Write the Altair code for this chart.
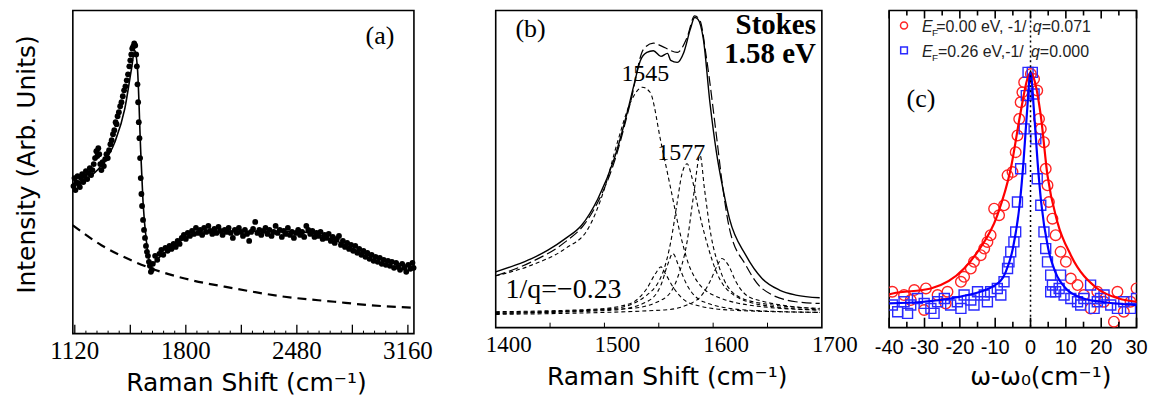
import altair as alt
import pandas as pd

# ---------------- Panel (a) data ----------------
a_fit_x = [1108, 1283, 1365, 1426, 1467, 1487, 1504, 1524, 1538, 1559, 1589, 1630, 1732, 1895, 2099, 2507, 2711, 2915, 3197]
a_fit_y = [150.3, 168.7, 192, 225.3, 265.3, 284, 265.3, 182, 132, 92, 68.7, 75.3, 88.7, 102, 102.7, 102, 93.7, 78.7, 67]

a_bg_x = [1108, 1283, 1487, 1589, 1793, 2099, 2405, 2711, 2915, 3197]
a_bg_y = [108.7, 88.7, 72, 65.3, 55.3, 45.3, 37, 32, 28.7, 26]

a_pts_x = [1112, 1118, 1124, 1130, 1137, 1144, 1151, 1158, 1165, 1172, 1180, 1188, 1196, 1204, 1212, 1220,
           1228, 1236, 1244, 1252, 1258, 1264, 1270, 1276, 1283, 1290, 1298, 1306, 1314, 1322, 1330, 1338,
           1346, 1354, 1362, 1370, 1376, 1382, 1390, 1398, 1406, 1414, 1422, 1430, 1438, 1446, 1454, 1460,
           1466, 1472, 1478, 1484, 1490, 1496, 1500, 1504, 1508, 1512, 1516, 1520, 1524, 1528, 1532, 1538,
           1544, 1550, 1556, 1562, 1568, 1574, 1580, 1586, 1592, 1598,
           1612, 1625, 1638, 1650, 1662, 1675, 1688, 1700, 1712, 1725, 1738, 1750, 1762, 1775, 1788, 1800,
           1812, 1825, 1838, 1850, 1862, 1875, 1888, 1900, 1912, 1925, 1938, 1950, 1962, 1975, 1988, 2000,
           2012, 2025, 2038, 2050, 2062, 2075, 2088, 2100, 2112, 2125, 2138, 2150, 2162, 2175, 2188, 2200,
           2212, 2225, 2238, 2250, 2262, 2275, 2288, 2300, 2312, 2325, 2338, 2350, 2362, 2375, 2388, 2400,
           2412, 2425, 2438, 2450, 2462, 2475, 2488, 2500, 2512, 2525, 2538, 2550, 2562, 2575, 2588, 2600,
           2612, 2625, 2638, 2650, 2662, 2675, 2688, 2700, 2712, 2725, 2738, 2750, 2762, 2775, 2788, 2800,
           2812, 2825, 2838, 2850, 2862, 2875, 2888, 2900, 2912, 2925, 2938, 2950, 2962, 2975, 2988, 3000,
           3012, 3025, 3038, 3050, 3062, 3075, 3088, 3100, 3112, 3125, 3138, 3150, 3162, 3175, 3188, 3195]
a_pts_y = [148, 156, 144, 152, 158, 150, 147, 156, 160, 152, 158, 163, 155, 161, 166, 159,
           164, 170, 176, 183, 178, 186, 180, 170, 164, 172, 168, 175, 180, 176, 184, 190,
           194, 200, 204, 212, 210, 218, 222, 228, 232, 238, 244, 248, 254, 260, 268, 274,
           280, 286, 288, 291, 289, 280, 268, 250, 232, 212, 196, 176, 156, 140, 128, 114,
           104, 96, 88, 82, 78, 72, 68, 62, 64, 70,
           78, 74, 80, 84, 79, 86, 83, 88, 85, 90, 87, 93, 90, 96, 99, 95,
           101, 98, 103, 100, 106, 101, 104, 99, 106, 102, 108, 103, 100, 105, 101, 107,
           103, 99, 104, 102, 106, 101, 96, 104, 101, 106, 102, 98, 104, 100, 93, 102,
           105, 112, 101, 104, 99, 103, 106, 100, 104, 98, 102, 108, 101, 104, 97, 103,
           100, 106, 99, 102, 96, 101, 104, 99, 102, 97, 108, 104, 100, 103, 97, 101,
           98, 102, 95, 99, 96, 100, 93, 97, 91, 95, 98, 89, 93, 87, 91, 85,
           89, 83, 88, 81, 85, 79, 83, 77, 81, 75, 79, 73, 77, 72, 76, 70,
           74, 69, 73, 68, 72, 66, 71, 67, 64, 70, 66, 62, 69, 65, 71, 66]

a_label_vals = [1120, 1800, 2480, 3160]
a_ticks_major = [1120, 1460, 1800, 2140, 2480, 2820, 3160]
a_ticks_minor = [1188, 1256, 1324, 1392, 1528, 1596, 1664, 1732, 1868, 1936, 2004, 2072,
                 2208, 2276, 2344, 2412, 2548, 2616, 2684, 2752, 2888, 2956, 3024, 3092]

# ---------------- Panel (b) data ----------------
b_exp_x = [1400, 1418, 1433, 1448, 1464, 1479, 1494, 1509, 1521, 1527, 1533, 1539, 1545, 1552, 1558, 1561,
           1567, 1573, 1579, 1583, 1586, 1591, 1597, 1603, 1609, 1615, 1630, 1645, 1661, 1676, 1698]
b_exp_y = [56, 62.7, 69.3, 77.7, 89.3, 102.7, 129.3, 169.3, 216, 242.7, 267.7, 276, 277.7, 272, 275, 268,
           266, 276, 299.3, 311, 309.3, 289.3, 226, 176, 139.3, 109.3, 72.7, 49.3, 37.7, 32.7, 30]

b_fit_x = [1400, 1433, 1464, 1482, 1494, 1509, 1524, 1536, 1545, 1555, 1567, 1576, 1583, 1588, 1594, 1603,
           1609, 1615, 1630, 1645, 1676, 1698]
b_fit_y = [52, 66, 86, 104.3, 126, 166, 226, 279.3, 285.3, 281, 276, 291, 312.7, 307.7, 269.3, 192.7,
           139.3, 99.3, 62.7, 39.3, 26, 24.3]

b_c1_x = [1400, 1433, 1464, 1485, 1500, 1512, 1524, 1535, 1542, 1552, 1561, 1570, 1579, 1600, 1645, 1698]
b_c1_y = [52, 62.7, 79.3, 99.3, 139.3, 186, 226, 241, 236, 186, 139.3, 92.7, 59.3, 32.7, 21, 17.7]
b_c2_x = [1400, 1509, 1539, 1555, 1561, 1567, 1571, 1576, 1580, 1585, 1594, 1603, 1615, 1645, 1698]
b_c2_y = [14.3, 19.3, 32.7, 59.3, 86, 126, 152.7, 164.3, 152.7, 126, 86, 56, 36, 22.7, 17.7]
b_c3_x = [1400, 1524, 1555, 1567, 1576, 1582, 1588, 1592, 1598, 1606, 1621, 1645, 1698]
b_c3_y = [15.3, 19.3, 29.3, 49.3, 86, 132.7, 172.7, 139.3, 92.7, 59.3, 32.7, 24.3, 19.3]
b_c4_x = [1400, 1494, 1524, 1539, 1547, 1552, 1556, 1564, 1579, 1615, 1698]
b_c4_y = [16, 18.7, 24.3, 39.3, 54.3, 61, 54.3, 39.3, 24.3, 17.7, 15.3]
b_c5_x = [1400, 1509, 1539, 1552, 1558, 1563, 1568, 1576, 1591, 1630, 1698]
b_c5_y = [14.3, 17.7, 26, 42.7, 62.7, 74.3, 62.7, 42.7, 26, 17.7, 15.3]
b_c6_x = [1400, 1555, 1585, 1597, 1604, 1608, 1614, 1621, 1636, 1698]
b_c6_y = [13.3, 17.7, 27.7, 46, 62.7, 69.3, 62.7, 46, 29.3, 18.7]

b_label_vals = [1400, 1500, 1600, 1700]
b_ticks = [1450, 1500, 1550, 1600, 1650]

# ---------------- Panel (c) data ----------------
c_red_fit_x = [-40, -39, -28.2, -18.8, -15, -9.4, -5.6, -2.8, -0.9, 0, 1, 2.9, 4.8, 7.6, 11.4, 18.9, 25, 30]
c_red_fit_y = [33.5, 34.3, 39.3, 59.3, 76, 112.7, 159.3, 216, 249.3, 256, 249.3, 212.7, 152.7, 106, 72.7, 39.3, 29.3, 26]
c_blue_fit_x = [-40, -30, -20, -10, -7, -5, -3, -2, -1, 0, 1, 2, 3, 5, 7, 10, 15, 20, 30]
c_blue_fit_y = [24.3, 26, 31, 42.7, 56, 79.3, 126, 166, 216, 256, 216, 166, 126, 79.3, 56, 39.3, 29.3, 26, 22.7]

c_red_x = [-39.1, -35.8, -33.9, -32.9, -30.1, -29.6, -26.3, -24, -23.5, -19.7, -18.8, -16.9, -16, -14.1, -13.1,
           -12.2, -11.3, -10.3, -8.9, -7.5, -6.5, -5.1, -4.2, -3.7, -3.2, -2.8, -2.3, -1.8, 0.1, 1.0, 1.9,
           2.4, 2.9, 3.8, 4.3, 4.8, 5.2, 6.2, 7.1, 8.5, 10, 11.4, 13.3, 15.1, 17, 18.9, 20.8, 23.6, 24.6,
           26.4, 28.3, 30]
c_red_y = [36, 32.7, 27.7, 37.7, 17.7, 39.3, 32.7, 24.3, 36, 46, 51, 59.3, 66, 72.7, 79.3,
           86, 92.7, 119.3, 112.7, 122.7, 152.7, 156, 176, 192.7, 209.3, 226, 236, 246, 254.3, 249.3, 237.7,
           209.3, 199.3, 186, 159.3, 142.7, 126, 109.3, 92.7, 76, 66, 49.3, 42.7, 32.7, 19.3, 36, 26, 6, 36,
           16, 26, 39.3]

c_blue_x = [-39.1, -37.6, -35.8, -34.8, -33.9, -32, -30.1, -28.2, -27.3, -26.3, -24.4, -22.6, -20.7, -19.7,
            -18.8, -16.9, -16, -15, -13.1, -12.2, -11.3, -9.4, -8.4, -7.5, -6.5, -6.1, -5.6, -4.7, -4.2,
            -3.7, -2.8, -1.8, -1.2, -0.7, 0.5, 1, 1.5, 1.9, 2.9, 3.8, 4.3, 4.8, 5.7, 5.7, 6.2, 7.1, 8.1,
            8.5, 9.5, 11.4, 13.3, 14.2, 15.1, 17, 18, 18.9, 19.8, 20.8, 22.7, 24.6, 26.4, 28.3, 30]
c_blue_y = [22.7, 16, 26, 14.3, 22.7, 29.3, 24.3, 19.3, 14.3, 26, 29.3, 22.7, 26, 19.3,
            32.7, 27.7, 22.7, 36, 32.7, 26, 36, 39.3, 32.7, 46, 59.3, 66, 76, 86, 96,
            126, 159.3, 199.3, 232.7, 256, 256, 234.3, 189.3, 149.3, 122.7, 96, 79.3, 66, 52.7, 36, 42.7, 36, 39.3,
            52.7, 32.7, 29.3, 26, 22.7, 29.3, 42.7, 19.3, 26, 29.3, 32.7, 22.7, 19.3, 26, 19.3, 29.3]

c_label_vals = [-40, -30, -20, -10, 0, 10, 20, 30]
c_ticks_major = [-40, -30, -20, -10, 0, 10, 20, 30]
c_ticks_minor = [-35, -25, -15, -5, 5, 15, 25]

# ---------------- sizes & fonts ----------------
W_A, H_A = 342, 324
W_B, H_B = 327, 318
W_C, H_C = 248, 318
SERIF = "Liberation Serif"
SANS = "DejaVu Sans"
ARIAL = "Liberation Sans"


def xy_df(xs, ys, **extra):
    d = pd.DataFrame({"x": xs, "y": ys})
    for k, v in extra.items():
        d[k] = v
    return d


def tick_labels(vals, X, y_px, font, size, dx=0):
    df = pd.DataFrame({"x": vals, "t": [str(v) for v in vals]})
    return alt.Chart(df).mark_text(font=font, fontSize=size, color="black", align="center",
                                   baseline="alphabetic", dx=dx).encode(x=X, y=alt.value(y_px), text="t:N")


def free_text(txt, x_px, y_px, font, size, angle=0):
    return alt.Chart(pd.DataFrame({"t": [txt]})).mark_text(font=font, fontSize=size, color="black", align="center",
                                                            baseline="alphabetic", angle=angle).encode(
        x=alt.value(x_px), y=alt.value(y_px), text="t:N")


# ---------------- Panel (a) ----------------
XA = alt.X("x:Q", scale=alt.Scale(domain=[1108, 3197], nice=False, zero=False), axis=None)
YA = alt.Y("y:Q", scale=alt.Scale(domain=[0, H_A], nice=False, zero=False), axis=None)

a_base = alt.Chart(xy_df(a_fit_x, a_fit_y)).mark_line(color="black", strokeWidth=1.6, interpolate="monotone").encode(x=XA, y=YA)
a_bg = alt.Chart(xy_df(a_bg_x, a_bg_y)).mark_line(color="black", strokeWidth=2.2, strokeDash=[9, 6],
                                                   interpolate="monotone").encode(x=XA, y=YA)
a_pts = alt.Chart(xy_df(a_pts_x, a_pts_y)).mark_point(shape="circle", filled=True, color="black", size=34,
                                                      opacity=1).encode(x=XA, y=YA)
a_tmaj = alt.Chart(pd.DataFrame({"x": a_ticks_major})).mark_rule(color="black", strokeWidth=1.3).encode(
    x=XA, y=alt.value(H_A), y2=alt.value(H_A - 9))
a_tmin = alt.Chart(pd.DataFrame({"x": a_ticks_minor})).mark_rule(color="black", strokeWidth=1).encode(
    x=XA, y=alt.value(H_A), y2=alt.value(H_A - 3))
a_lab = alt.Chart(pd.DataFrame({"x": [2989], "y": [298], "t": ["(a)"]})).mark_text(
    font=SERIF, fontSize=26, color="black", baseline="middle", align="center").encode(x=XA, y=YA, text="t:N")
a_tl = tick_labels(a_label_vals, XA, 349, SERIF, 25)
a_xt = free_text("Raman Shift (cm⁻¹)", 174, 381, SANS, 25)
a_yt = free_text("Intensity (Arb. Units)", -38, 154.5, SANS, 25, angle=270)

chart_a = alt.layer(a_bg, a_base, a_pts, a_tmaj, a_tmin, a_lab, a_tl, a_xt, a_yt).properties(width=W_A, height=H_A)

# ---------------- Panel (b) ----------------
XB = alt.X("x:Q", scale=alt.Scale(domain=[1400, 1700], nice=False, zero=False), axis=None)
YB = alt.Y("y:Q", scale=alt.Scale(domain=[0, H_B], nice=False, zero=False), axis=None)

comp = pd.concat([
    xy_df(b_c1_x, b_c1_y, c="c1"), xy_df(b_c2_x, b_c2_y, c="c2"), xy_df(b_c3_x, b_c3_y, c="c3"),
    xy_df(b_c4_x, b_c4_y, c="c4"), xy_df(b_c5_x, b_c5_y, c="c5"), xy_df(b_c6_x, b_c6_y, c="c6")])

b_exp = alt.Chart(xy_df(b_exp_x, b_exp_y)).mark_line(color="black", strokeWidth=1.4, interpolate="monotone").encode(x=XB, y=YB)
b_fit = alt.Chart(xy_df(b_fit_x, b_fit_y)).mark_line(color="black", strokeWidth=1.2, strokeDash=[10, 4],
                                                     interpolate="monotone").encode(x=XB, y=YB)
b_comp = alt.Chart(comp).mark_line(color="black", strokeWidth=1.1, strokeDash=[4, 3],
                                   interpolate="monotone").encode(x=XB, y=YB, detail="c:N")
b_tk = alt.Chart(pd.DataFrame({"x": b_ticks})).mark_rule(color="black", strokeWidth=1).encode(
    x=XB, y=alt.value(H_B), y2=alt.value(H_B - 5))
b_txt = alt.Chart(pd.DataFrame({"x": [1432], "y": [299], "t": ["(b)"]})).mark_text(
    font=SERIF, fontSize=26, color="black", baseline="middle", align="center").encode(x=XB, y=YB, text="t:N")
b_pk = alt.Chart(pd.DataFrame({"x": [1537.6, 1570.6], "y": [254, 175], "t": ["1545", "1577"]})).mark_text(
    font=SERIF, fontSize=24, color="black", baseline="middle", align="center").encode(x=XB, y=YB, text="t:N")
b_q = alt.Chart(pd.DataFrame({"x": [1462.4], "y": [38], "t": ["1/q=−0.23"]})).mark_text(
    font=SERIF, fontSize=28, color="black", baseline="middle", align="center").encode(x=XB, y=YB, text="t:N")
b_st = alt.Chart(pd.DataFrame({"x": [1694.5, 1694.5], "y": [294, 265], "t": ["Stokes", "1.58 eV"]})).mark_text(
    font=SERIF, fontSize=29, fontWeight="bold", color="black", baseline="alphabetic", align="right").encode(
    x=XB, y=YB, text="t:N")
b_tl = tick_labels(b_label_vals, XB, 342, SERIF, 23, dx=13)
b_xt = free_text("Raman Shift (cm⁻¹)", 172, 375, SANS, 25)

chart_b = alt.layer(b_comp, b_fit, b_exp, b_tk, b_txt, b_pk, b_q, b_st, b_tl, b_xt).properties(width=W_B, height=H_B)

# ---------------- Panel (c) ----------------
RED = "#ff2424"
BLUE = "#2a2aff"
XC = alt.X("x:Q", scale=alt.Scale(domain=[-40, 30], nice=False, zero=False), axis=None)
YC = alt.Y("y:Q", scale=alt.Scale(domain=[0, H_C], nice=False, zero=False), axis=None)

c_red_pts = alt.Chart(xy_df(c_red_x, c_red_y)).mark_point(shape="circle", filled=False, color=RED, size=113,
                                                          strokeWidth=1.4, opacity=1, clip=True).encode(x=XC, y=YC)
c_blue_pts = alt.Chart(xy_df(c_blue_x, c_blue_y)).mark_point(shape="square", filled=False, color=BLUE, size=100,
                                                             strokeWidth=1.4, opacity=1, clip=True).encode(x=XC, y=YC)
c_red_line = alt.Chart(xy_df(c_red_fit_x, c_red_fit_y)).mark_line(color="#ff0000", strokeWidth=2.2,
                                                                  interpolate="monotone").encode(x=XC, y=YC)
c_blue_line = alt.Chart(xy_df(c_blue_fit_x, c_blue_fit_y)).mark_line(color="#0000ff", strokeWidth=2.2,
                                                                     interpolate="monotone").encode(x=XC, y=YC)
c_zero = alt.Chart(pd.DataFrame({"x": [0]})).mark_rule(color="black", strokeWidth=1.5, strokeDash=[2, 3]).encode(
    x=XC, y=alt.value(0), y2=alt.value(H_C))
c_tb_maj = alt.Chart(pd.DataFrame({"x": c_ticks_major})).mark_rule(color="black", strokeWidth=1.6).encode(
    x=XC, y=alt.value(H_C), y2=alt.value(H_C - 10))
c_tb_min = alt.Chart(pd.DataFrame({"x": c_ticks_minor})).mark_rule(color="black", strokeWidth=1.6).encode(
    x=XC, y=alt.value(H_C), y2=alt.value(H_C - 6))
c_tt_maj = alt.Chart(pd.DataFrame({"x": c_ticks_major})).mark_rule(color="black", strokeWidth=1.6).encode(
    x=XC, y=alt.value(0), y2=alt.value(8))
c_tt_min = alt.Chart(pd.DataFrame({"x": c_ticks_minor})).mark_rule(color="black", strokeWidth=1.6).encode(
    x=XC, y=alt.value(0), y2=alt.value(5))

c_leg_circ = alt.Chart(pd.DataFrame({"x": [-35.8], "y": [303]})).mark_point(
    shape="circle", filled=False, color=RED, size=50, strokeWidth=1.5, opacity=1).encode(x=XC, y=YC)
c_leg_sq = alt.Chart(pd.DataFrame({"x": [-35.8], "y": [278]})).mark_point(
    shape="square", filled=False, color=BLUE, size=45, strokeWidth=1.5, opacity=1).encode(x=XC, y=YC)
c_leg_it = alt.Chart(pd.DataFrame({"x": [-30.7, 0.64, -30.7, 0.1], "y": [296, 296, 271, 271],
                                   "t": ["E", "q", "E", "q"]})).mark_text(
    font=ARIAL, fontSize=16, fontStyle="italic", color="#222222", align="left", baseline="alphabetic").encode(
    x=XC, y=YC, text="t:N")
c_leg_sub = alt.Chart(pd.DataFrame({"x": [-27.9, -27.9], "y": [292, 267], "t": ["F", "F"]})).mark_text(
    font=ARIAL, fontSize=10, color="#222222", align="left", baseline="alphabetic").encode(
    x=XC, y=YC, text="t:N")
c_leg_main = alt.Chart(pd.DataFrame({"x": [-26.7, 3.18, -26.2, 2.64], "y": [296, 296, 271, 271],
                                     "t": ["=0.00 eV, -1/", "=0.071", "=0.26 eV,-1/", "=0.000"]})).mark_text(
    font=ARIAL, fontSize=16, color="#222222", align="left", baseline="alphabetic").encode(
    x=XC, y=YC, text="t:N")
c_lab = alt.Chart(pd.DataFrame({"x": [-31], "y": [229], "t": ["(c)"]})).mark_text(
    font=SERIF, fontSize=26, color="black", baseline="middle", align="center").encode(x=XC, y=YC, text="t:N")
c_tl = tick_labels(c_label_vals, XC, 344.5, ARIAL, 20)
c_xt = free_text("ω-ω₀(cm⁻¹)", 152, 375, SANS, 25)

chart_c = alt.layer(c_red_pts, c_blue_pts, c_red_line, c_blue_line, c_zero, c_tb_maj, c_tb_min, c_tt_maj,
                    c_tt_min, c_leg_circ, c_leg_sq, c_leg_it, c_leg_sub, c_leg_main, c_lab, c_tl, c_xt).properties(
    width=W_C, height=H_C)

left = alt.hconcat(chart_a, chart_b, spacing=51)
chart = alt.hconcat(left, chart_c, spacing=14.5).properties(
    padding={"left": 6, "top": 0, "right": 0, "bottom": 0}
).configure_view(stroke="black", strokeWidth=1.6)

chart.save("out.html", embed_options={"renderer": "svg", "actions": False})
